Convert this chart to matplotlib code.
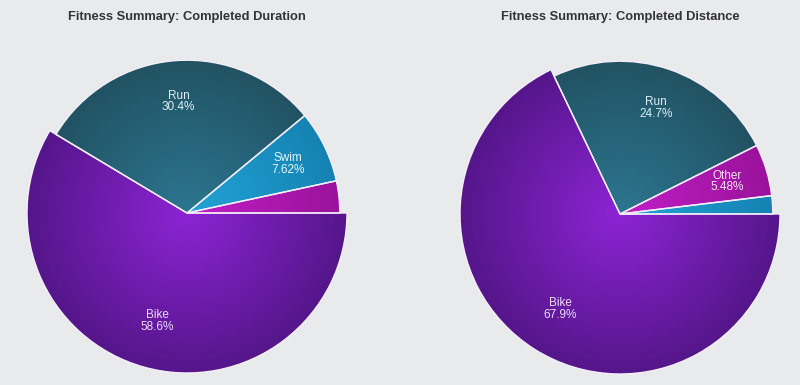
import numpy as np
import matplotlib
matplotlib.use("Agg")
import matplotlib.pyplot as plt
from matplotlib.colors import LinearSegmentedColormap

# data (sorted ascending, drawn counter-clockwise from 3 o'clock)
duration_labels = ["Other", "Swim", "Run", "Bike"]
duration_values = [3.38, 7.62, 30.4, 58.6]
distance_labels = ["Swim", "Other", "Run", "Bike"]
distance_values = [1.92, 5.48, 24.7, 67.9]

titles = ["Fitness Summary: Completed Duration", "Fitness Summary: Completed Distance"]

# (center colour, edge colour) for the radial gradient
colors = {
    "Bike": ("#8c24d4", "#55168a"),
    "Run": ("#2c7690", "#215161"),
    "Swim": ("#22a4d6", "#1481b2"),
    "Other": ("#c21ec6", "#981299"),
}
label_colors = {"Bike": "#ecdcf8", "Run": "#dcf0f6", "Swim": "#e8f6fc", "Other": "#f8e0f8"}

bg = "#e9eaec"
plt.rcParams["font.family"] = ["Liberation Sans", "DejaVu Sans"]

fig = plt.figure(figsize=(8, 3.85), dpi=100)
fig.patch.set_facecolor(bg)

# pixel layout: pie centers and outer (bike) radius
centers = [(187, 213), (620, 214)]
R = 160
small_r = 0.955

yy, xx = np.mgrid[-1:1:400j, -1:1:400j]
dist = np.clip(np.sqrt(xx ** 2 + yy ** 2), 0, 1)


def draw_pie(ax, labels, values):
    wedges, _ = ax.pie(values, startangle=0, counterclock=True, radius=1.0,
                       wedgeprops=dict(edgecolor="#f4eefa", linewidth=1.0))
    total = sum(values)
    start = 0.0
    for w, lab, v in zip(wedges, labels, values):
        if lab != "Bike":
            w.set_radius(small_r)
        c0, c1 = colors[lab]
        cmap = LinearSegmentedColormap.from_list(lab, [c0, c1])
        w.set_facecolor("none")
        im = ax.imshow(dist, cmap=cmap, extent=[-1, 1, -1, 1], origin="lower",
                       vmin=0, vmax=1, zorder=0.5, interpolation="bilinear")
        im.set_clip_path(w)
        w.set_zorder(1)
        frac = v / total * 100
        mid = np.deg2rad(start + v / total * 360 / 2)
        start += v / total * 360
        if frac > 5:
            d = 0.70
            ax.text(d * np.cos(mid), d * np.sin(mid), f"{lab}\n{frac:.3g}%",
                    ha="center", va="center", fontsize=8.5, color=label_colors[lab],
                    linespacing=0.95, zorder=3)
    ax.set_xlim(-1, 1)
    ax.set_ylim(-1, 1)
    ax.set_aspect("equal")
    ax.axis("off")


for i, (labels, values) in enumerate([(duration_labels, duration_values),
                                       (distance_labels, distance_values)]):
    cx, cy = centers[i]
    ax = fig.add_axes([(cx - R) / 800, (385 - cy - R) / 385, 2 * R / 800, 2 * R / 385])
    ax.set_facecolor("none")
    draw_pie(ax, labels, values)
    fig.text(cx / 800, 1 - 17 / 385, titles[i], ha="center", va="center",
             fontsize=9.3, fontweight="bold", color="#333333")

fig.savefig("out.png", dpi=100, facecolor=bg)
